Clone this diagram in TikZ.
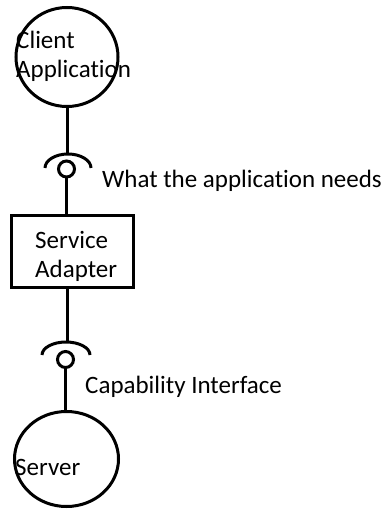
\documentclass[tikz,border=0pt]{standalone}
\usepackage{fontspec}
\setmainfont{Carlito}[Ligatures=NoCommon]
\usetikzlibrary{shapes.geometric}

\tikzset{
  lw/.style={line width=3pt},
  actor/.style={draw, lw, ellipse, inner sep=0pt},
  stepbox/.style={draw, lw, rectangle, inner sep=0pt, minimum width=122pt, minimum height=72pt},
  ball/.style={draw, lw, circle, inner sep=0pt, minimum size=16pt},
  wire/.style={lw},
  txt/.style={inner sep=0pt, anchor=base west, align=left,
    font=\fontsize{25}{29}\selectfont},
}

\begin{document}
\begin{tikzpicture}[x=1pt, y=-1pt]
  \useasboundingbox (0,0) rectangle (387,510);

  % components
  \node[actor, minimum width=102pt, minimum height=99pt] (client) at (67,57) {};
  \node[stepbox] (adapter) at (72.5,251.5) {};
  \node[actor, minimum width=104pt, minimum height=95pt] (server) at (66.5,459) {};

  % provided interfaces (balls) and required interfaces (sockets)
  \node[ball] (ball1) at (66.5,169) {};
  \node[ball] (ball2) at (65.5,359.5) {};
  \coordinate (sock1) at (68,154);
  \coordinate (sock2) at (66,342);

  \draw[wire] ([xshift=-23pt,yshift=-14pt]sock1) arc[start angle=180, end angle=0, x radius=23pt, y radius=14pt];
  \draw[wire] ([xshift=-24pt,yshift=-13pt]sock2) arc[start angle=180, end angle=0, x radius=24pt, y radius=13pt];

  % connectors
  \draw[wire] ([xshift=-1pt]client.south -| sock1) -- ([xshift=-1pt]sock1);
  \draw[wire] (ball1.south) -- (ball1.south |- adapter.north);
  \draw[wire] ([xshift=1pt]adapter.south -| sock2) -- ([xshift=1pt]sock2);
  \draw[wire] (ball2.south) -- (ball2.south |- server.north);

  % labels (anchored at the baseline of the last line)
  \node[txt] (lclient) at (16,78) {Client\\Application};
  \node[txt] (ladapter) at (35,277) {Service\\Adapter};
  \node[txt] (lserver) at (15,475) {Server};
  \node[txt] (lneeds) at (102,188) {What the application needs};
  \node[txt] (lcap) at (85,393) {Capability Interface};
\end{tikzpicture}
\end{document}
